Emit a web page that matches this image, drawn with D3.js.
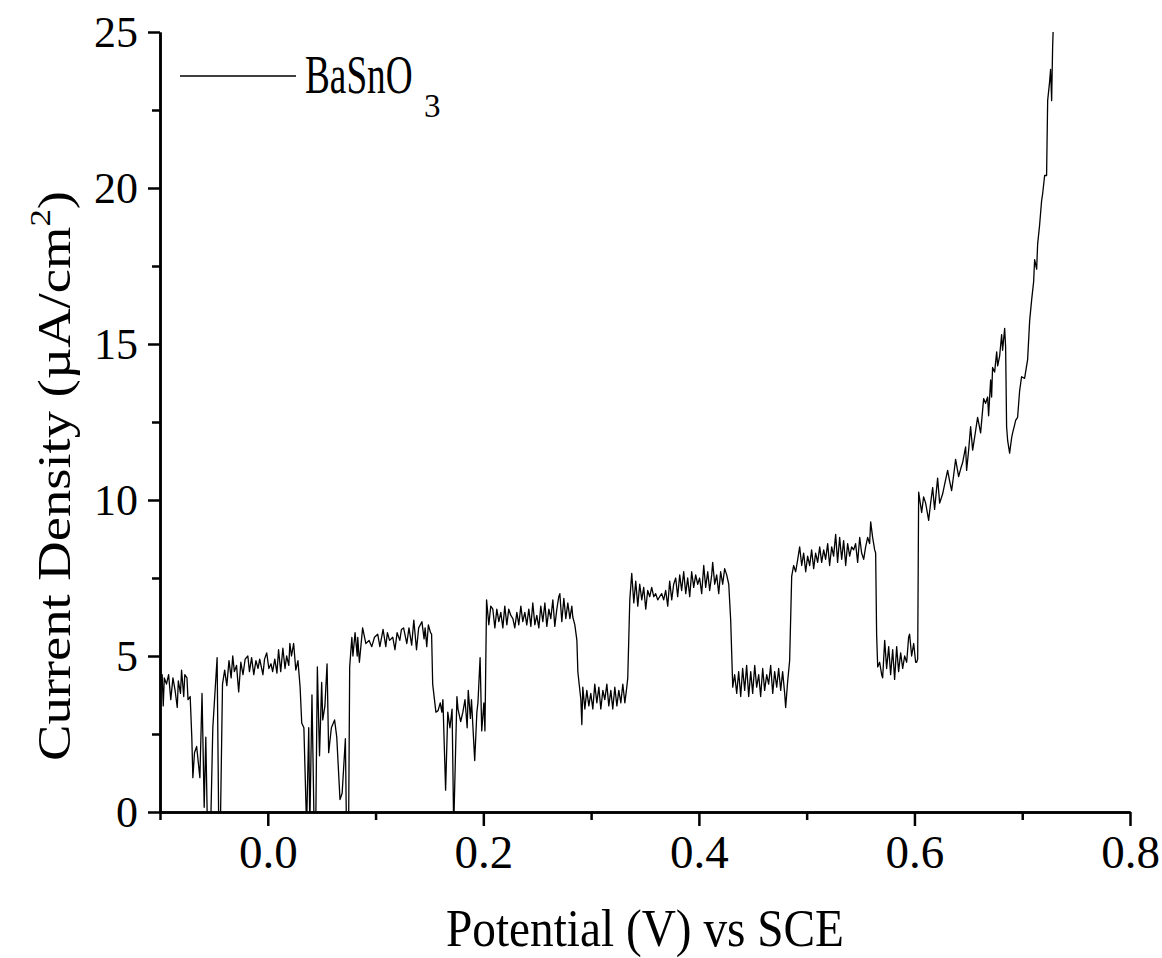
<!DOCTYPE html>
<html>
<head>
<meta charset="utf-8">
<script src="https://cdn.jsdelivr.net/npm/d3@7"></script>
<style>
  body { margin: 0; background: #fff; }
  svg text { font-family: "Times New Roman", "Liberation Serif", Times, "DejaVu Serif", serif; fill: #000; }
</style>
</head>
<body>
<script>
// photocurrent scan under chopped light
// [potential (V vs SCE), current density (uA/cm2)]
var scan = [
  [-0.100,3.8],[-0.098,4.4],[-0.097,3.4],[-0.096,4.3],[-0.094,4.1],[-0.092,4.4],[-0.090,3.6],[-0.088,4.3],[-0.086,3.9],[-0.084,3.35],[-0.083,4.2],[-0.081,3.8],[-0.080,4.55],[-0.078,3.7],[-0.077,4.4],[-0.075,4.3],[-0.074,3.6],[-0.072,3.7],
  [-0.0705,2.4],[-0.0695,1.1],[-0.068,1.9],[-0.066,2.1],[-0.063,1.1],[-0.061,3.8],[-0.059,0.15],[-0.0575,2.4],[-0.056,-0.5],[-0.053,-0.5],[-0.051,2.7],[-0.047,4.95],[-0.0455,-0.5],[-0.044,-0.5],[-0.042,4.1],
  [-0.040,4.55],[-0.038,4.05],[-0.036,4.85],[-0.034,4.3],[-0.0325,5.0],[-0.031,4.5],[-0.029,4.7],[-0.027,3.85],[-0.025,4.8],[-0.023,4.4],[-0.021,4.9],[-0.0185,5.0],[-0.017,4.5],[-0.015,4.95],[-0.013,4.4],[-0.011,4.85],[-0.009,4.6],[-0.0075,4.9],[-0.0045,4.4],[-0.003,4.9],[-0.001,5.1],[0.001,4.6],[0.003,4.75],[0.0045,4.5],[0.0065,4.9],[0.0085,4.45],[0.010,5.2],[0.012,4.5],[0.014,5.25],[0.016,4.6],[0.0175,5.0],[0.0195,4.7],[0.0205,5.4],[0.022,5.0],[0.024,5.4],[0.026,4.55],[0.028,4.85],[0.030,4.0],
  [0.0315,2.85],[0.0335,2.7],[0.036,-0.5],[0.038,2.7],[0.039,-0.5],[0.041,3.75],[0.043,-0.5],[0.0445,-0.5],[0.046,4.65],[0.048,1.8],[0.050,4.15],[0.051,2.95],[0.053,3.4],[0.055,4.75],[0.0565,1.9],[0.059,2.7],[0.062,2.95],[0.064,2.4],[0.067,0.4],[0.069,0.6],[0.072,2.35],[0.073,-0.5],[0.075,-0.5],
  [0.076,4.65],[0.078,5.6],[0.079,5.0],[0.081,5.75],[0.083,5.0],[0.0835,5.6],[0.085,4.8],[0.088,5.9],[0.091,5.4],[0.094,5.5],[0.0965,5.3],[0.099,5.6],[0.102,5.7],[0.104,5.3],[0.107,5.85],[0.1095,5.3],[0.111,5.75],[0.113,5.5],[0.116,5.6],[0.118,5.2],[0.120,5.75],[0.1225,5.5],[0.124,5.85],[0.126,5.9],[0.129,5.4],[0.131,5.9],[0.1335,5.35],[0.1355,6.15],[0.138,5.2],[0.140,5.9],[0.143,6.1],[0.145,5.55],[0.146,5.9],[0.1475,5.3],[0.149,6.0],[0.151,5.75],[0.152,5.7],
  [0.153,4.1],[0.156,3.2],[0.158,3.25],[0.160,3.5],[0.1615,3.2],[0.1625,3.6],[0.165,0.7],[0.167,3.2],[0.169,2.7],[0.171,3.3],[0.1725,-0.5],[0.1755,3.7],[0.1765,3.3],[0.179,2.9],[0.181,3.2],[0.183,3.6],[0.185,2.7],[0.186,3.9],[0.188,3.0],[0.189,3.6],[0.192,1.65],[0.194,3.2],[0.195,3.5],[0.197,4.95],[0.1985,2.6],[0.2005,3.5],[0.2015,2.6],
  [0.203,6.8],[0.2051,6.0],[0.2069,6.6],[0.2088,6.5],[0.2107,5.9],[0.2125,6.5],[0.2144,6.1],[0.2162,6.4],[0.2181,5.9],[0.2199,6.6],[0.2218,6.0],[0.2236,6.5],[0.2255,6.3],[0.2274,6.2],[0.2292,5.9],[0.2311,6.4],[0.2329,6.0],[0.2348,6.6],[0.2366,6.1],[0.2385,6.4],[0.2403,6.0],[0.2422,6.5],[0.2441,5.95],[0.2459,6.7],[0.2478,6.0],[0.2496,6.3],[0.2515,5.9],[0.2533,6.6],[0.2552,6.1],[0.2571,6.7],[0.2589,5.95],[0.2608,6.5],[0.2626,6.2],[0.2645,6.8],[0.2663,5.95],[0.2682,6.5],[0.2700,6.9],[0.2710,7.0],[0.2728,6.1],[0.2747,6.85],[0.2765,6.2],[0.2784,6.7],[0.2803,6.2],[0.2821,6.6],[0.2830,6.25],[0.2849,6.0],[0.2868,5.5],
  [0.2877,4.5],[0.2886,4.2],[0.2905,3.6],[0.2914,2.8],[0.2923,4.0],[0.2942,3.3],[0.2960,3.9],[0.2979,3.4],[0.2997,3.8],[0.3016,3.3],[0.3034,4.1],[0.3053,3.5],[0.3072,4.0],[0.3090,3.3],[0.3109,3.9],[0.3127,3.6],[0.3146,4.1],[0.3164,3.4],[0.3183,3.9],[0.3201,3.3],[0.3220,4.0],[0.3239,3.4],[0.3257,3.9],[0.3276,3.5],[0.3294,4.1],[0.3313,3.5],[0.3331,4.0],[0.3340,4.3],
  [0.3359,6.8],[0.3377,7.65],[0.3396,6.7],[0.3414,7.4],[0.3433,6.6],[0.3451,7.3],[0.3470,6.8],[0.3488,7.2],[0.3507,6.5],[0.3525,7.1],[0.3544,6.9],[0.3562,7.2],[0.3581,6.9],[0.3599,7.0],[0.3618,6.8],[0.3636,6.9],[0.3655,7.0],[0.3673,6.8],[0.3692,7.1],[0.3711,6.6],[0.3729,7.4],[0.3748,6.8],[0.3766,7.3],[0.3785,7.5],[0.3803,6.9],[0.3822,7.6],[0.3840,7.1],[0.3859,7.7],[0.3878,7.0],[0.3896,7.5],[0.3915,6.9],[0.3933,7.7],[0.3952,7.2],[0.3970,7.6],[0.3989,7.3],[0.4007,7.5],[0.4026,7.0],[0.4045,7.9],[0.4063,7.2],[0.4082,7.7],[0.4100,7.1],[0.4119,7.6],[0.4128,8.0],[0.4147,7.3],[0.4165,7.6],[0.4184,7.0],[0.4202,7.7],[0.4221,7.3],[0.4239,7.8],[0.4258,7.6],[0.4277,7.3],
  [0.4295,6.15],[0.4314,4.0],[0.4332,4.4],[0.4351,3.8],[0.4369,4.5],[0.4388,3.7],[0.4406,4.6],[0.4425,3.9],[0.4443,4.7],[0.4462,3.7],[0.4481,4.5],[0.4499,3.8],[0.4518,4.7],[0.4536,4.0],[0.4555,4.4],[0.4573,3.7],[0.4592,4.6],[0.4610,3.9],[0.4629,4.4],[0.4647,4.1],[0.4666,4.7],[0.4685,3.8],[0.4703,4.5],[0.4722,4.0],[0.4740,4.6],[0.4759,3.9],[0.4777,4.5],[0.4796,3.8],[0.4805,3.35],[0.4824,4.2],[0.4842,4.85],
  [0.4861,7.55],[0.4879,7.9],[0.4898,7.7],[0.4917,8.1],[0.4935,8.5],[0.4954,7.9],[0.4972,8.3],[0.4991,7.7],[0.5009,8.2],[0.5028,7.9],[0.5046,8.4],[0.5065,7.8],[0.5083,8.3],[0.5102,8.0],[0.5121,8.5],[0.5139,8.0],[0.5158,8.4],[0.5176,8.1],[0.5195,8.6],[0.5213,7.9],[0.5232,8.5],[0.5250,8.2],[0.5269,8.9],[0.5287,8.0],[0.5306,8.8],[0.5325,8.1],[0.5343,8.7],[0.5362,7.9],[0.5380,8.6],[0.5399,8.2],[0.5417,8.5],[0.5436,8.4],[0.5454,8.6],[0.5473,8.0],[0.5492,8.8],[0.5510,8.3],[0.5529,8.1],[0.5547,8.5],[0.5566,8.8],[0.5584,8.6],[0.5594,9.3],[0.5612,8.8],[0.5631,8.4],[0.5640,8.3],
  [0.5649,5.7],[0.5659,4.65],[0.5677,4.8],[0.5696,4.4],[0.5705,4.3],[0.5724,5.5],[0.5742,4.6],[0.5761,5.3],[0.5779,4.4],[0.5798,5.2],[0.5816,4.25],[0.5835,5.3],[0.5853,4.5],[0.5872,5.1],[0.5891,4.6],[0.5909,5.0],[0.5928,4.8],[0.5946,5.6],[0.5955,5.7],[0.5974,5.0],[0.5993,5.4],[0.6011,4.8],[0.6020,4.8],[0.6030,4.9],
  [0.6039,10.25],[0.6067,9.6],[0.6085,10.1],[0.6104,9.9],[0.6132,9.35],[0.6150,9.9],[0.6169,10.4],[0.6187,9.7],[0.6215,10.7],[0.6234,9.9],[0.6262,10.2],[0.6280,10.5],[0.6308,10.95],[0.6327,10.6],[0.6345,10.3],[0.6364,10.8],[0.6382,11.3],[0.6410,10.75],[0.6429,11.0],[0.6447,11.2],[0.6475,11.7],[0.6484,10.95],[0.6503,11.6],[0.6521,12.35],[0.6540,11.6],[0.6558,12.0],[0.6586,12.65],[0.6614,12.15],[0.6642,13.25],[0.6660,13.1],[0.6679,13.3],[0.6688,12.7],[0.6707,13.85],[0.6716,13.3],[0.6725,14.25],[0.6744,14.1],[0.6763,14.75],[0.6772,14.3],[0.6790,14.6],[0.6809,15.3],[0.6818,14.8],[0.6837,15.5],[0.6846,14.9],
  [0.6855,12.35],[0.6865,11.9],[0.6883,11.5],[0.6902,12.0],[0.6911,12.15],[0.6929,12.4],[0.6939,12.55],[0.6957,12.65],[0.6976,13.5],[0.6994,13.95],[0.7022,13.9],[0.7050,14.5],[0.7069,15.75],[0.7087,16.4],[0.7106,17.0],[0.7115,17.7],[0.7134,17.4],[0.7143,18.2],[0.7161,18.8],[0.7180,19.6],[0.7189,19.8],[0.7208,20.4],[0.7226,20.4],[0.7236,22.8],[0.7254,23.4],[0.7263,23.8],[0.7273,22.8],[0.7282,24.5],[0.7291,25.5]
];

// axis ticks
var xMajor = [0.0, 0.2, 0.4, 0.6, 0.8],
	xMinor = [-0.1, 0.1, 0.3, 0.5, 0.7];
var yMajor = [0, 5, 10, 15, 20, 25],
	yMinor = [2.5, 7.5, 12.5, 17.5, 22.5];

var seriesName = 'BaSnO',
	seriesSub = '3';

var width = 1162,
	height = 958;

var serif = '"Times New Roman", "Liberation Serif", Times, "DejaVu Serif", serif';

// plot box in pixels
var margin = {top: 32, right: 32, bottom: 146, left: 160};
var innerW = width - margin.left - margin.right,
	innerH = height - margin.top - margin.bottom;

var x = d3.scaleLinear()
	.domain([-0.1, 0.8])
	.range([0, innerW]);

var y = d3.scaleLinear()
	.domain([0, 25])
	.range([innerH, 0]);

var svg = d3.select('body')
	.append('svg')
	.attr('width', width)
	.attr('height', height)
	.attr('font-family', serif);

var g = svg.append('g')
	.attr('transform', 'translate(' + margin.left + ',' + margin.top + ')');

// keep the trace inside the box
g.append('clipPath')
	.attr('id', 'plot-clip')
	.append('rect')
	.attr('x', 0)
	.attr('y', 0)
	.attr('width', innerW)
	.attr('height', innerH);

var line = d3.line()
	.x(function(d) { return x(d[0]); })
	.y(function(d) { return y(d[1]); });

g.append('path')
	.datum(scan)
	.attr('clip-path', 'url(#plot-clip)')
	.attr('fill', 'none')
	.attr('stroke', '#000')
	.attr('stroke-width', 1.3)
	.attr('stroke-linejoin', 'round')
	.attr('d', line);

// minor ticks first, then the major axis on top
var xMinorAxis = d3.axisBottom(x)
	.tickValues(xMinor)
	.tickSize(8)
	.tickSizeOuter(0)
	.tickFormat('');

var xAxis = d3.axisBottom(x)
	.tickValues(xMajor)
	.tickSize(14)
	.tickSizeOuter(0)
	.tickPadding(8)
	.tickFormat(d3.format('.1f'));

var yMinorAxis = d3.axisLeft(y)
	.tickValues(yMinor)
	.tickSize(8)
	.tickSizeOuter(0)
	.tickFormat('');

var yAxis = d3.axisLeft(y)
	.tickValues(yMajor)
	.tickSize(12)
	.tickSizeOuter(0)
	.tickPadding(10)
	.tickFormat(d3.format('d'));

g.append('g')
	.attr('transform', 'translate(0,' + innerH + ')')
	.call(xMinorAxis);

g.append('g')
	.attr('class', 'x axis')
	.attr('transform', 'translate(0,' + innerH + ')')
	.call(xAxis);

g.append('g')
	.call(yMinorAxis);

g.append('g')
	.attr('class', 'y axis')
	.call(yAxis);

// d3 puts sans-serif on each axis group, swap it back
g.selectAll('g')
	.attr('font-family', serif);

g.selectAll('.domain, .tick line')
	.attr('stroke', '#000')
	.attr('stroke-width', 2.5);

g.selectAll('.tick text')
	.attr('fill', '#000');

g.selectAll('.x.axis .tick text')
	.attr('font-size', 47)
	.attr('dy', '0.72em');

g.selectAll('.y.axis .tick text')
	.attr('font-size', 44);

// the source figure has tall, narrow lettering: squeeze or stretch text to a set length
function fitLength(sel, len) {
	sel.attr('textLength', len)
		.attr('lengthAdjust', 'spacingAndGlyphs');
}

// axis titles
var xTitle = svg.append('text')
	.attr('x', margin.left + x(0.35))
	.attr('y', 946)
	.attr('text-anchor', 'middle')
	.attr('font-size', 52)
	.text('Potential (V) vs SCE');
fitLength(xTitle, 398);

var yTitle = svg.append('text')
	.attr('transform', 'translate(70,476) rotate(-90)')
	.attr('text-anchor', 'middle')
	.attr('font-size', 47);

yTitle.append('tspan').text('Current Density (\u00b5A/cm');
yTitle.append('tspan')
	.attr('dy', -20)
	.attr('font-size', 30)
	.text('2');
yTitle.append('tspan')
	.attr('dy', 20)
	.text(')');
fitLength(yTitle, 570);

// legend
var legend = g.append('g')
	.attr('transform', 'translate(20,44)');

legend.append('line')
	.attr('x1', 0)
	.attr('x2', 116)
	.attr('y1', 0)
	.attr('y2', 0)
	.attr('stroke', '#000')
	.attr('stroke-width', 1.3);

// tall narrow name, then a plain subscript
legend.append('text')
	.attr('transform', 'translate(125,17) scale(0.69,1)')
	.attr('font-size', 54)
	.text(seriesName);

legend.append('text')
	.attr('x', 244)
	.attr('y', 41)
	.attr('font-size', 33)
	.text(seriesSub);
</script>
</body>
</html>
